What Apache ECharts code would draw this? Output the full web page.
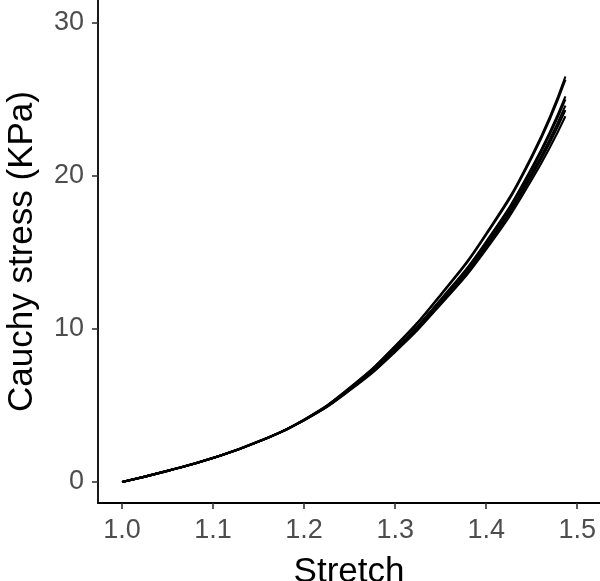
<!DOCTYPE html>
<html>
<head>
<meta charset="utf-8">
<script src="https://cdn.jsdelivr.net/npm/echarts@6/dist/echarts.min.js"></script>
<style>html,body{margin:0;padding:0;background:#fff;}#c{width:600px;height:581px;}</style>
</head>
<body>
<div id="c"></div>
<script>
const stretch = [1.00, 1.05, 1.10, 1.15, 1.20, 1.25, 1.30, 1.35, 1.40, 1.45, 1.487];
const curveA = [0, 0.73, 1.57, 2.64, 4.03, 5.98, 8.50, 11.60, 15.20, 19.75, 23.9];
const curveB = [0, 0.73, 1.57, 2.64, 4.04, 6.01, 8.56, 11.70, 15.36, 19.99, 24.3];
const curveC = [0, 0.73, 1.57, 2.64, 4.05, 6.03, 8.61, 11.78, 15.48, 20.17, 24.6];
const curveD = [0, 0.73, 1.57, 2.64, 4.05, 6.06, 8.67, 11.88, 15.64, 20.41, 25.0];
const curveE = [0, 0.73, 1.57, 2.64, 4.06, 6.07, 8.70, 11.93, 15.72, 20.53, 25.2];
const curveF = [0, 0.74, 1.58, 2.66, 4.08, 6.15, 8.86, 12.20, 16.16, 21.19, 26.3];
const curveG = [0, 0.74, 1.58, 2.66, 4.08, 6.16, 8.89, 12.25, 16.24, 21.31, 26.5];
const xTicks = [1.0, 1.1, 1.2, 1.3, 1.4, 1.5];
const yTicks = [0, 10, 20, 30];

const curves = [curveA, curveB, curveC, curveD, curveE, curveF, curveG];
const font = 'Liberation Sans, Helvetica, Arial, sans-serif';
const chart = echarts.init(document.getElementById('c'), null, {renderer: 'canvas'});
chart.setOption({
  animation: false,
  backgroundColor: '#ffffff',
  grid: {left: 98, right: 0, top: 0, bottom: 78, containLabel: false, outerBoundsMode: 'none'},
  xAxis: {
    type: 'value', min: 0.9736, max: 1.525,
    name: 'Stretch', nameLocation: 'middle', nameGap: 52,
    nameTextStyle: {fontSize: 35, color: '#000', fontFamily: font},
    axisLine: {show: true, onZero: false, lineStyle: {color: '#000', width: 1.8}},
    axisTick: {show: true, length: 6, customValues: xTicks, lineStyle: {color: '#333', width: 1.6}},
    axisLabel: {customValues: xTicks, fontSize: 27, color: '#4d4d4d', fontFamily: font, margin: 14,
      formatter: v => v.toFixed(1)},
    splitLine: {show: false}
  },
  yAxis: {
    type: 'value', min: -1.37, max: 31.5,
    name: 'Cauchy stress (KPa)', nameLocation: 'middle', nameGap: 58,
    nameTextStyle: {fontSize: 35, color: '#000', fontFamily: font},
    axisLine: {show: true, onZero: false, lineStyle: {color: '#000', width: 1.8}},
    axisTick: {show: true, length: 6, customValues: yTicks, lineStyle: {color: '#333', width: 1.6}},
    axisLabel: {customValues: yTicks, fontSize: 27, color: '#4d4d4d', fontFamily: font, margin: 14},
    splitLine: {show: false}
  },
  series: curves.map(c => ({
    type: 'line', smooth: true, symbol: 'none',
    lineStyle: {color: '#000', width: 2.1},
    data: stretch.map((x, i) => [x, c[i]])
  }))
});
</script>
</body>
</html>
